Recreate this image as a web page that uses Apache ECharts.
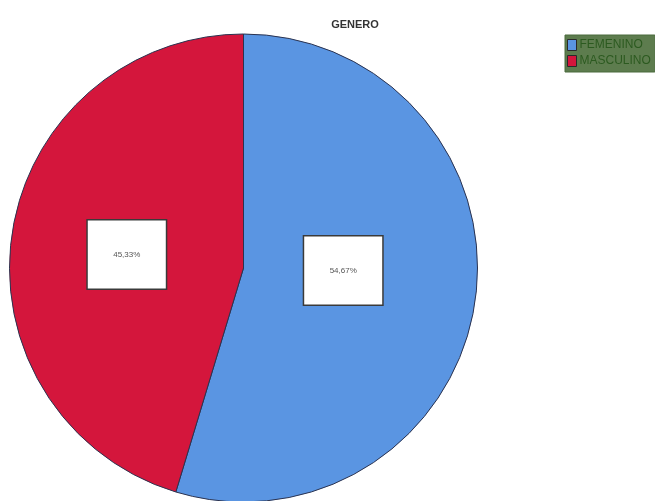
<!DOCTYPE html>
<html>
<head>
<meta charset="utf-8">
<script src="https://cdn.jsdelivr.net/npm/echarts@6/dist/echarts.min.js"></script>
<style>
  html, body { margin: 0; padding: 0; background: #ffffff; }
  #chart { width: 655px; height: 501px; }
</style>
</head>
<body>
<div id="chart"></div>
<script>
// Gender split (percent of respondents)
const categories = ['FEMENINO', 'MASCULINO'];
const percents = [54.67, 45.33];
const sliceColors = ['#5a95e2', '#d4163c'];
const labelOffsets = [[-19, -15], [2, 4]];

const chart = echarts.init(document.getElementById('chart'));

const fmt = v => v.toFixed(2).replace('.', ',') + '%';

chart.setOption({
  animation: false,
  backgroundColor: '#ffffff',
  title: {
    text: 'GENERO',
    left: 350,
    top: 14,
    textAlign: 'center',
    textStyle: { fontFamily: 'Liberation Sans, Arial, sans-serif', fontSize: 11, fontWeight: 'bold', color: '#333333' }
  },
  legend: {
    orient: 'vertical',
    left: 565,
    top: 35,
    padding: [4, 4, 5, 2],
    itemGap: 4,
    itemWidth: 9,
    itemHeight: 11,
    icon: 'rect',
    backgroundColor: '#5d7c4e',
    borderColor: '#4a6a3c',
    borderWidth: 1,
    itemStyle: { borderColor: '#2a2a2a', borderWidth: 1 },
    textStyle: { fontFamily: 'Liberation Sans, Arial, sans-serif', fontSize: 12, color: '#2c5a20', padding: [0, 0, 0, -2] },
    data: categories
  },
  series: [{
    type: 'pie',
    center: [243.5, 268],
    radius: 234,
    startAngle: 90,
    clockwise: true,
    silent: true,
    data: categories.map((name, i) => ({
      name,
      value: percents[i],
      itemStyle: { color: sliceColors[i] },
      label: { offset: labelOffsets[i] }
    })),
    itemStyle: { borderColor: '#2b3350', borderWidth: 1 },
    labelLine: { show: false },
    label: {
      show: true,
      position: 'inside',
      formatter: p => fmt(p.value),
      fontFamily: 'Liberation Sans, Arial, sans-serif',
      fontSize: 8,
      color: '#555555',
      backgroundColor: '#ffffff',
      borderColor: '#3a3a3a',
      borderWidth: 1.5,
      width: 78,
      height: 68,
      lineHeight: 68,
      align: 'center',
      verticalAlign: 'middle'
    }
  }]
});
</script>
</body>
</html>
